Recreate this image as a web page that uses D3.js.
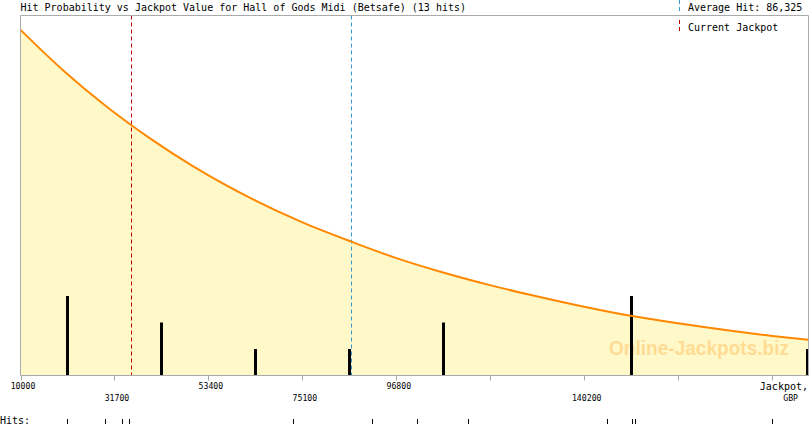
<!DOCTYPE html>
<html>
<head>
<meta charset="utf-8">
<script src="https://cdn.jsdelivr.net/npm/d3@7/dist/d3.min.js"></script>
<style>
  body { margin: 0; background: #fff; }
  text { font-family: "DejaVu Sans Mono", monospace; }
</style>
</head>
<body>
<div id="chart"></div>
<script>
'use strict';

var title = "Hit Probability vs Jackpot Value for Hall of Gods Midi (Betsafe) (13 hits)";
var averageHit = 86325;
var currentJackpot = 35550;

// probability curve (relative units, 1 = top of plot)
var curveJackpot = [10000, 20000, 30000, 35550, 40000, 50000, 63720, 75000, 86360,
    96840, 107610, 118390, 129940, 140170, 151260, 161880, 183600, 192000];
var curveProb = [0.960, 0.846, 0.746, 0.696, 0.658, 0.580, 0.489, 0.426, 0.372,
    0.326, 0.286, 0.251, 0.218, 0.191, 0.165, 0.145, 0.110, 0.099];

// histogram of hits per bin
var binJackpot = [20850, 42550, 64250, 85950, 107650, 151050, 191600];
var binHits = [3, 2, 1, 1, 2, 3, 1];

// individual hits shown in the strip below the axis
var hitValues = [20850, 29540, 33330, 35080, 72980, 91090, 101620, 113400,
    145550, 151260, 151950, 183600];

// axis ticks and their labels (row 0 = upper, row 1 = lower)
var tickValues = [10000, 31700, 53400, 75100, 96800, 118500, 140200, 161900, 183600];
var tickLabels = ["10000", "31700", "53400", "75100", "96800", "", "140200", "", ""];
var tickRows = [0, 1, 0, 1, 0, 0, 1, 0, 0];

var width = 810;
var height = 425;
var plotTop = 15.5, plotBottom = 375.5, plotLeft = 20.5, plotRight = 808.5;

var svg = d3.select("#chart")
    .append("svg")
        .attr("width", width)
        .attr("height", height);

var x = d3.scaleLinear()
    .domain([10000, 192000])
    .range([plotLeft, plotRight]);

var y = d3.scaleLinear()
    .domain([0, 1])
    .range([plotBottom, plotTop]);

var yHits = d3.scaleLinear()
    .domain([0, 3])
    .range([plotBottom, 296]);

var curve = curveJackpot.map(function (d, i) { return [d, curveProb[i]]; });

// filled area under the curve
svg.append("path")
    .datum(curve)
    .attr("fill", "#fff8c8")
    .attr("d", d3.area()
        .x(d => x(d[0]))
        .y0(plotBottom)
        .y1(d => y(d[1]))
        .curve(d3.curveMonotoneX));

// watermark
svg.append("text")
    .attr("x", 609)
    .attr("y", 355)
    .attr("textLength", 180)
    .attr("lengthAdjust", "spacingAndGlyphs")
    .style("font-family", "'Liberation Sans', Arial, sans-serif")
    .style("font-weight", "bold")
    .style("font-size", "21px")
    .style("fill", "#ffb347")
    .style("fill-opacity", 0.42)
    .text("Online-Jackpots.biz");

// hit bars
svg.selectAll("rect.bar")
    .data(binJackpot)
    .enter()
    .append("rect")
    .attr("class", "bar")
    .attr("x", d => Math.round(x(d)) - 1)
    .attr("y", (d, i) => yHits(binHits[i]))
    .attr("width", 3)
    .attr("height", (d, i) => plotBottom - yHits(binHits[i]))
    .style("fill", "#000");

// current jackpot and average hit markers
svg.append("line")
    .attr("x1", Math.round(x(currentJackpot)) + 0.5)
    .attr("x2", Math.round(x(currentJackpot)) + 0.5)
    .attr("y1", plotTop)
    .attr("y2", plotBottom)
    .style("stroke", "#c00000")
    .style("stroke-dasharray", "4,3");

svg.append("line")
    .attr("x1", Math.round(x(averageHit)) + 0.5)
    .attr("x2", Math.round(x(averageHit)) + 0.5)
    .attr("y1", plotTop)
    .attr("y2", plotBottom)
    .style("stroke", "#3399cc")
    .style("stroke-dasharray", "4,3");

// probability curve
svg.append("path")
    .datum(curve)
    .attr("fill", "none")
    .attr("stroke", "#ff8800")
    .attr("stroke-width", 2)
    .attr("d", d3.line()
        .x(d => x(d[0]))
        .y(d => y(d[1]))
        .curve(d3.curveMonotoneX));

// frame: top, right, bottom, left
svg.append("path")
    .attr("d", `M${plotLeft},${plotTop}H${plotRight}V${plotBottom}H${plotLeft}Z`)
    .style("fill", "none")
    .style("stroke", "#aaa");

// axis ticks
svg.selectAll("line.tick")
    .data(tickValues)
    .enter()
    .append("line")
    .attr("class", "tick")
    .attr("x1", d => Math.round(x(d)) + 0.5)
    .attr("x2", d => Math.round(x(d)) + 0.5)
    .attr("y1", plotBottom)
    .attr("y2", plotBottom + 5)
    .style("stroke", "#aaa");

svg.selectAll("text.tick")
    .data(tickValues)
    .enter()
    .append("text")
    .attr("class", "tick")
    .attr("x", d => x(d) + 2.5)
    .attr("y", (d, i) => tickRows[i] ? 400.5 : 388.8)
    .attr("text-anchor", "middle")
    .style("font-size", "8.2px")
    .style("fill", "#000")
    .text((d, i) => tickLabels[i]);

svg.append("text")
    .attr("x", 808)
    .attr("y", 389.5)
    .attr("text-anchor", "end")
    .style("font-size", "10px")
    .text("Jackpot,");

svg.append("text")
    .attr("x", 798)
    .attr("y", 400.5)
    .attr("text-anchor", "end")
    .style("font-size", "8.2px")
    .text("GBP");

// hits strip
svg.append("text")
    .attr("x", 0)
    .attr("y", 423.5)
    .style("font-size", "10px")
    .text("Hits:");

svg.selectAll("line.hit")
    .data(hitValues)
    .enter()
    .append("line")
    .attr("class", "hit")
    .attr("x1", d => Math.round(x(d)) + 0.5)
    .attr("x2", d => Math.round(x(d)) + 0.5)
    .attr("y1", 419)
    .attr("y2", 424)
    .style("stroke", "#000");

// title and legend
svg.append("text")
    .attr("x", 20.5)
    .attr("y", 11)
    .style("font-size", "10px")
    .text(title);

svg.append("line")
    .attr("x1", 679.5).attr("x2", 679.5)
    .attr("y1", 0).attr("y2", 12)
    .style("stroke", "#3399cc")
    .style("stroke-dasharray", "4,3");

svg.append("text")
    .attr("x", 688)
    .attr("y", 11)
    .style("font-size", "10px")
    .text("Average Hit: " + d3.format(",")(averageHit));

svg.append("line")
    .attr("x1", 679.5).attr("x2", 679.5)
    .attr("y1", 20).attr("y2", 33)
    .style("stroke", "#c00000")
    .style("stroke-dasharray", "4,3");

svg.append("text")
    .attr("x", 688)
    .attr("y", 31)
    .style("font-size", "10px")
    .text("Current Jackpot");
</script>
</body>
</html>
